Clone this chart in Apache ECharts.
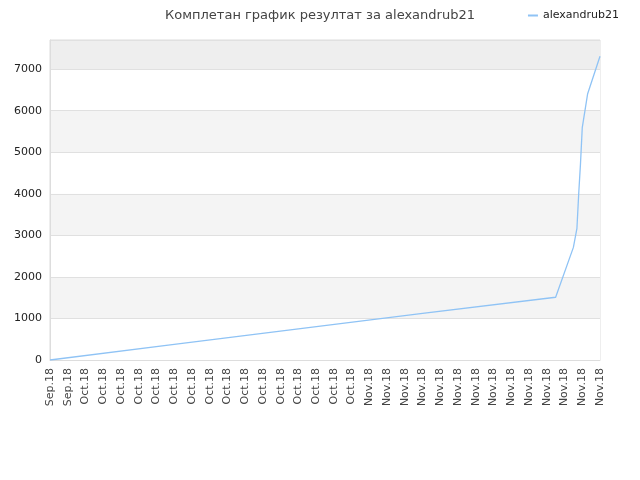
<!DOCTYPE html><html><head><meta charset="utf-8"><script src="https://cdn.jsdelivr.net/npm/echarts@6/dist/echarts.min.js"></script></head><body style="margin:0"><div id="c" style="width:640px;height:480px"></div><script>
const categories=['Sep.18','Sep.18'].concat(Array(16).fill('Oct.18'),Array(14).fill('Nov.18'));
const pointX=[0,7,14,21,28.5,29.5,29.7,29.8,29.9,30.0,30.3,31];
const pointY=[0,375,750,1120,1510,2710,3170,4000,4720,5590,6400,7310];
const yTicks=[0,1000,2000,3000,4000,5000,6000,7000];
const chart=echarts.init(document.getElementById('c'));
chart.setOption({
 animation:false,
 title:{text:'Комплетан график резултат за alexandrub21',left:'center',top:4,textStyle:{fontSize:13,fontWeight:'normal',color:'#444',fontFamily:'DejaVu Sans'}},
 legend:{right:16,top:5,itemWidth:10,itemHeight:2,icon:'rect',textStyle:{fontSize:11,color:'#222',fontFamily:'DejaVu Sans'},data:['alexandrub21']},
 grid:{left:50,right:40,top:40,bottom:120,show:true,borderColor:'#ddd',borderWidth:1,backgroundColor:'transparent'},
 xAxis:[{type:'category',data:categories,boundaryGap:false,axisTick:{show:false},axisLine:{lineStyle:{color:'#ddd'}},
   axisLabel:{rotate:90,interval:0,fontSize:11,color:'#444',fontFamily:'DejaVu Sans'},splitLine:{show:false}},
  {type:'value',min:0,max:31,show:false}],
 yAxis:{type:'value',min:0,max:7700,interval:1000,axisLine:{show:true,lineStyle:{color:'#ddd'}},axisTick:{show:false},
   axisLabel:{fontSize:11,color:'#222',fontFamily:'DejaVu Sans',formatter:v=>yTicks.includes(v)?String(v):''},
   splitLine:{lineStyle:{color:'#e0e0e0'}},
   splitArea:{show:true,areaStyle:{color:['#ffffff','#f4f4f4','#ffffff','#f4f4f4','#ffffff','#f4f4f4','#ffffff','#eeeeee']}}},
 series:[{name:'alexandrub21',type:'line',xAxisIndex:1,showSymbol:false,lineStyle:{width:1.3,color:'#8fc3f5'},itemStyle:{color:'#8fc3f5'},
   data:pointX.map((x,i)=>[x,pointY[i]])}]
});
</script></body></html>
